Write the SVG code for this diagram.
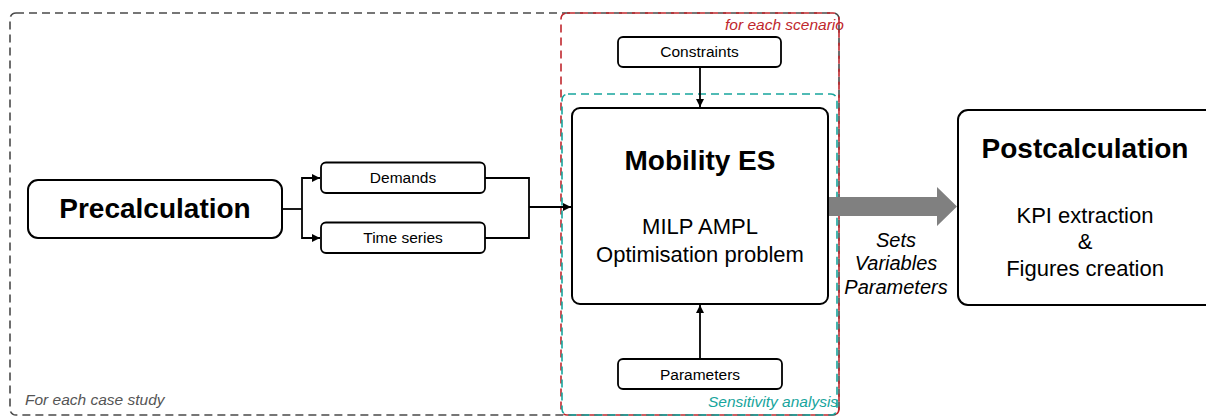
<svg xmlns="http://www.w3.org/2000/svg" width="1206" height="417" viewBox="0 0 1206 417">
<defs>
<style>
.node{fill:#fff;stroke:#000;stroke-width:2}
.small{fill:#fff;stroke:#000;stroke-width:1.8}
.t{font-family:"Liberation Sans",Arial,Helvetica,sans-serif;fill:#000;text-anchor:middle}
.title{font-size:28px;font-weight:bold}
.body{font-size:22px}
.lbl{font-size:15.5px}
.it{font-family:"Liberation Sans",Arial,Helvetica,sans-serif;font-style:italic;font-size:15.5px}
.conn{fill:none;stroke:#000;stroke-width:1.8}
.dash{fill:none;stroke-width:1.6;stroke-dasharray:8 5}
</style>
<marker id="ah" viewBox="0 0 10 10" refX="10" refY="5" markerWidth="9" markerHeight="8" markerUnits="userSpaceOnUse" orient="auto">
<path d="M0,0 L10,5 L0,10 z" fill="#000"/>
</marker>
</defs>
<rect width="1206" height="417" fill="#fff"/>

<g id="containers">
<text class="it" x="25" y="405" fill="#555">For each case study</text>
<text class="it" x="725" y="30" fill="#c0272d">for each scenario</text>
<text class="it" x="708" y="407" fill="#17a59d">Sensitivity analysis</text>
<rect class="dash" x="10" y="13" width="829" height="402" rx="6" stroke="#4a4a4a"/>
<rect class="dash" x="561" y="13" width="278" height="402" rx="6" stroke="#c0272d"/>
<rect class="dash" x="562" y="94" width="275" height="321" rx="6" stroke="#17a59d"/>
</g>

<g id="connectors">
<polyline class="conn" points="282,209 302,209"/>
<polyline class="conn" points="302,209 302,178 320,178" marker-end="url(#ah)"/>
<polyline class="conn" points="302,209 302,238 320,238" marker-end="url(#ah)"/>
<polyline class="conn" points="485,178 529,178 529,238 485,238"/>
<polyline class="conn" points="529,207 571,207" marker-end="url(#ah)"/>
<polyline class="conn" points="700,67 700,107" marker-end="url(#ah)"/>
<polyline class="conn" points="700,359 700,305" marker-end="url(#ah)"/>
<polygon points="828,197 937,197 937,187 957,206.5 937,226 937,216 828,216" fill="#808080"/>
<text class="t" font-style="italic" font-size="20" x="896" y="247">Sets</text>
<text class="t" font-style="italic" font-size="20" x="896" y="270">Variables</text>
<text class="t" font-style="italic" font-size="20" x="896" y="293.5">Parameters</text>
</g>

<g id="precalculation">
<rect class="node" x="28" y="180" width="254" height="58" rx="10"/>
<text class="t title" x="155" y="218">Precalculation</text>
</g>

<g id="demands">
<rect class="small" x="321" y="162.5" width="164" height="30.5" rx="5"/>
<text class="t lbl" x="403" y="183">Demands</text>
</g>

<g id="time-series">
<rect class="small" x="321" y="222.5" width="164" height="30.5" rx="5"/>
<text class="t lbl" x="403" y="243">Time series</text>
</g>

<g id="constraints">
<rect class="small" x="618" y="37" width="163" height="30" rx="5"/>
<text class="t lbl" x="699.5" y="57">Constraints</text>
</g>

<g id="mobility-es">
<rect class="node" x="572" y="108" width="256" height="196" rx="8"/>
<text class="t title" x="700" y="170">Mobility ES</text>
<text class="t body" x="700" y="234">MILP AMPL</text>
<text class="t body" x="700" y="262">Optimisation problem</text>
</g>

<g id="parameters">
<rect class="small" x="618" y="359" width="164" height="30" rx="5"/>
<text class="t lbl" x="700" y="379.5">Parameters</text>
</g>

<g id="postcalculation">
<rect class="node" x="958" y="110" width="262" height="195" rx="10"/>
<text class="t title" x="1085" y="158">Postcalculation</text>
<text class="t body" x="1085" y="223">KPI extraction</text>
<text class="t body" x="1085" y="249">&amp;</text>
<text class="t body" x="1085" y="276">Figures creation</text>
</g>
</svg>
